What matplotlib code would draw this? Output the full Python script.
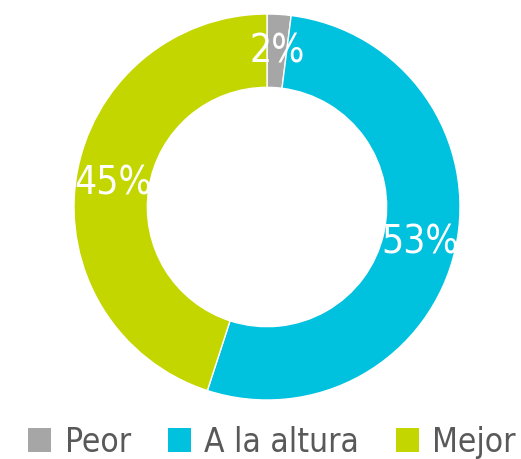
import matplotlib
matplotlib.use("Agg")
import matplotlib.pyplot as plt
from matplotlib.patches import Patch
import numpy as np

labels = ["Peor", "A la altura", "Mejor"]
values = [2, 53, 45]
colors = ["#a6a6a6", "#00c1de", "#c4d600"]

plt.rcParams["font.family"] = ["DejaVu Sans"]
plt.rcParams["font.stretch"] = "condensed"

fig = plt.figure(figsize=(5.21, 4.6), dpi=100)
ax = fig.add_axes([74 / 521, 59 / 460, 386 / 521, 386 / 460])

wedges, _ = ax.pie(values, colors=colors, startangle=90, counterclock=False,
                   radius=1.0, wedgeprops=dict(width=0.38, edgecolor="white", linewidth=1))

# percentage labels in the middle of the ring
for v, w in zip(values, wedges):
    mid = np.deg2rad((w.theta1 + w.theta2) / 2)
    r = 1 - 0.38 / 2
    ax.text(r * np.cos(mid), r * np.sin(mid), f"{v}%", color="white",
            fontsize=28, ha="center", va="center")

ax.set_xlim(-1, 1)
ax.set_ylim(-1, 1)
ax.set_aspect("equal")
ax.axis("off")

handles = [Patch(facecolor=c, edgecolor="none") for c in colors]
fig.legend(handles, labels, loc="center", bbox_to_anchor=(272 / 521, 17 / 460),
           ncol=3, frameon=False, fontsize=24, labelcolor="#595959",
           handlelength=0.7, handleheight=0.7, handletextpad=0.4,
           columnspacing=1.1, borderaxespad=0, borderpad=0)

fig.savefig("out.png", dpi=100)
